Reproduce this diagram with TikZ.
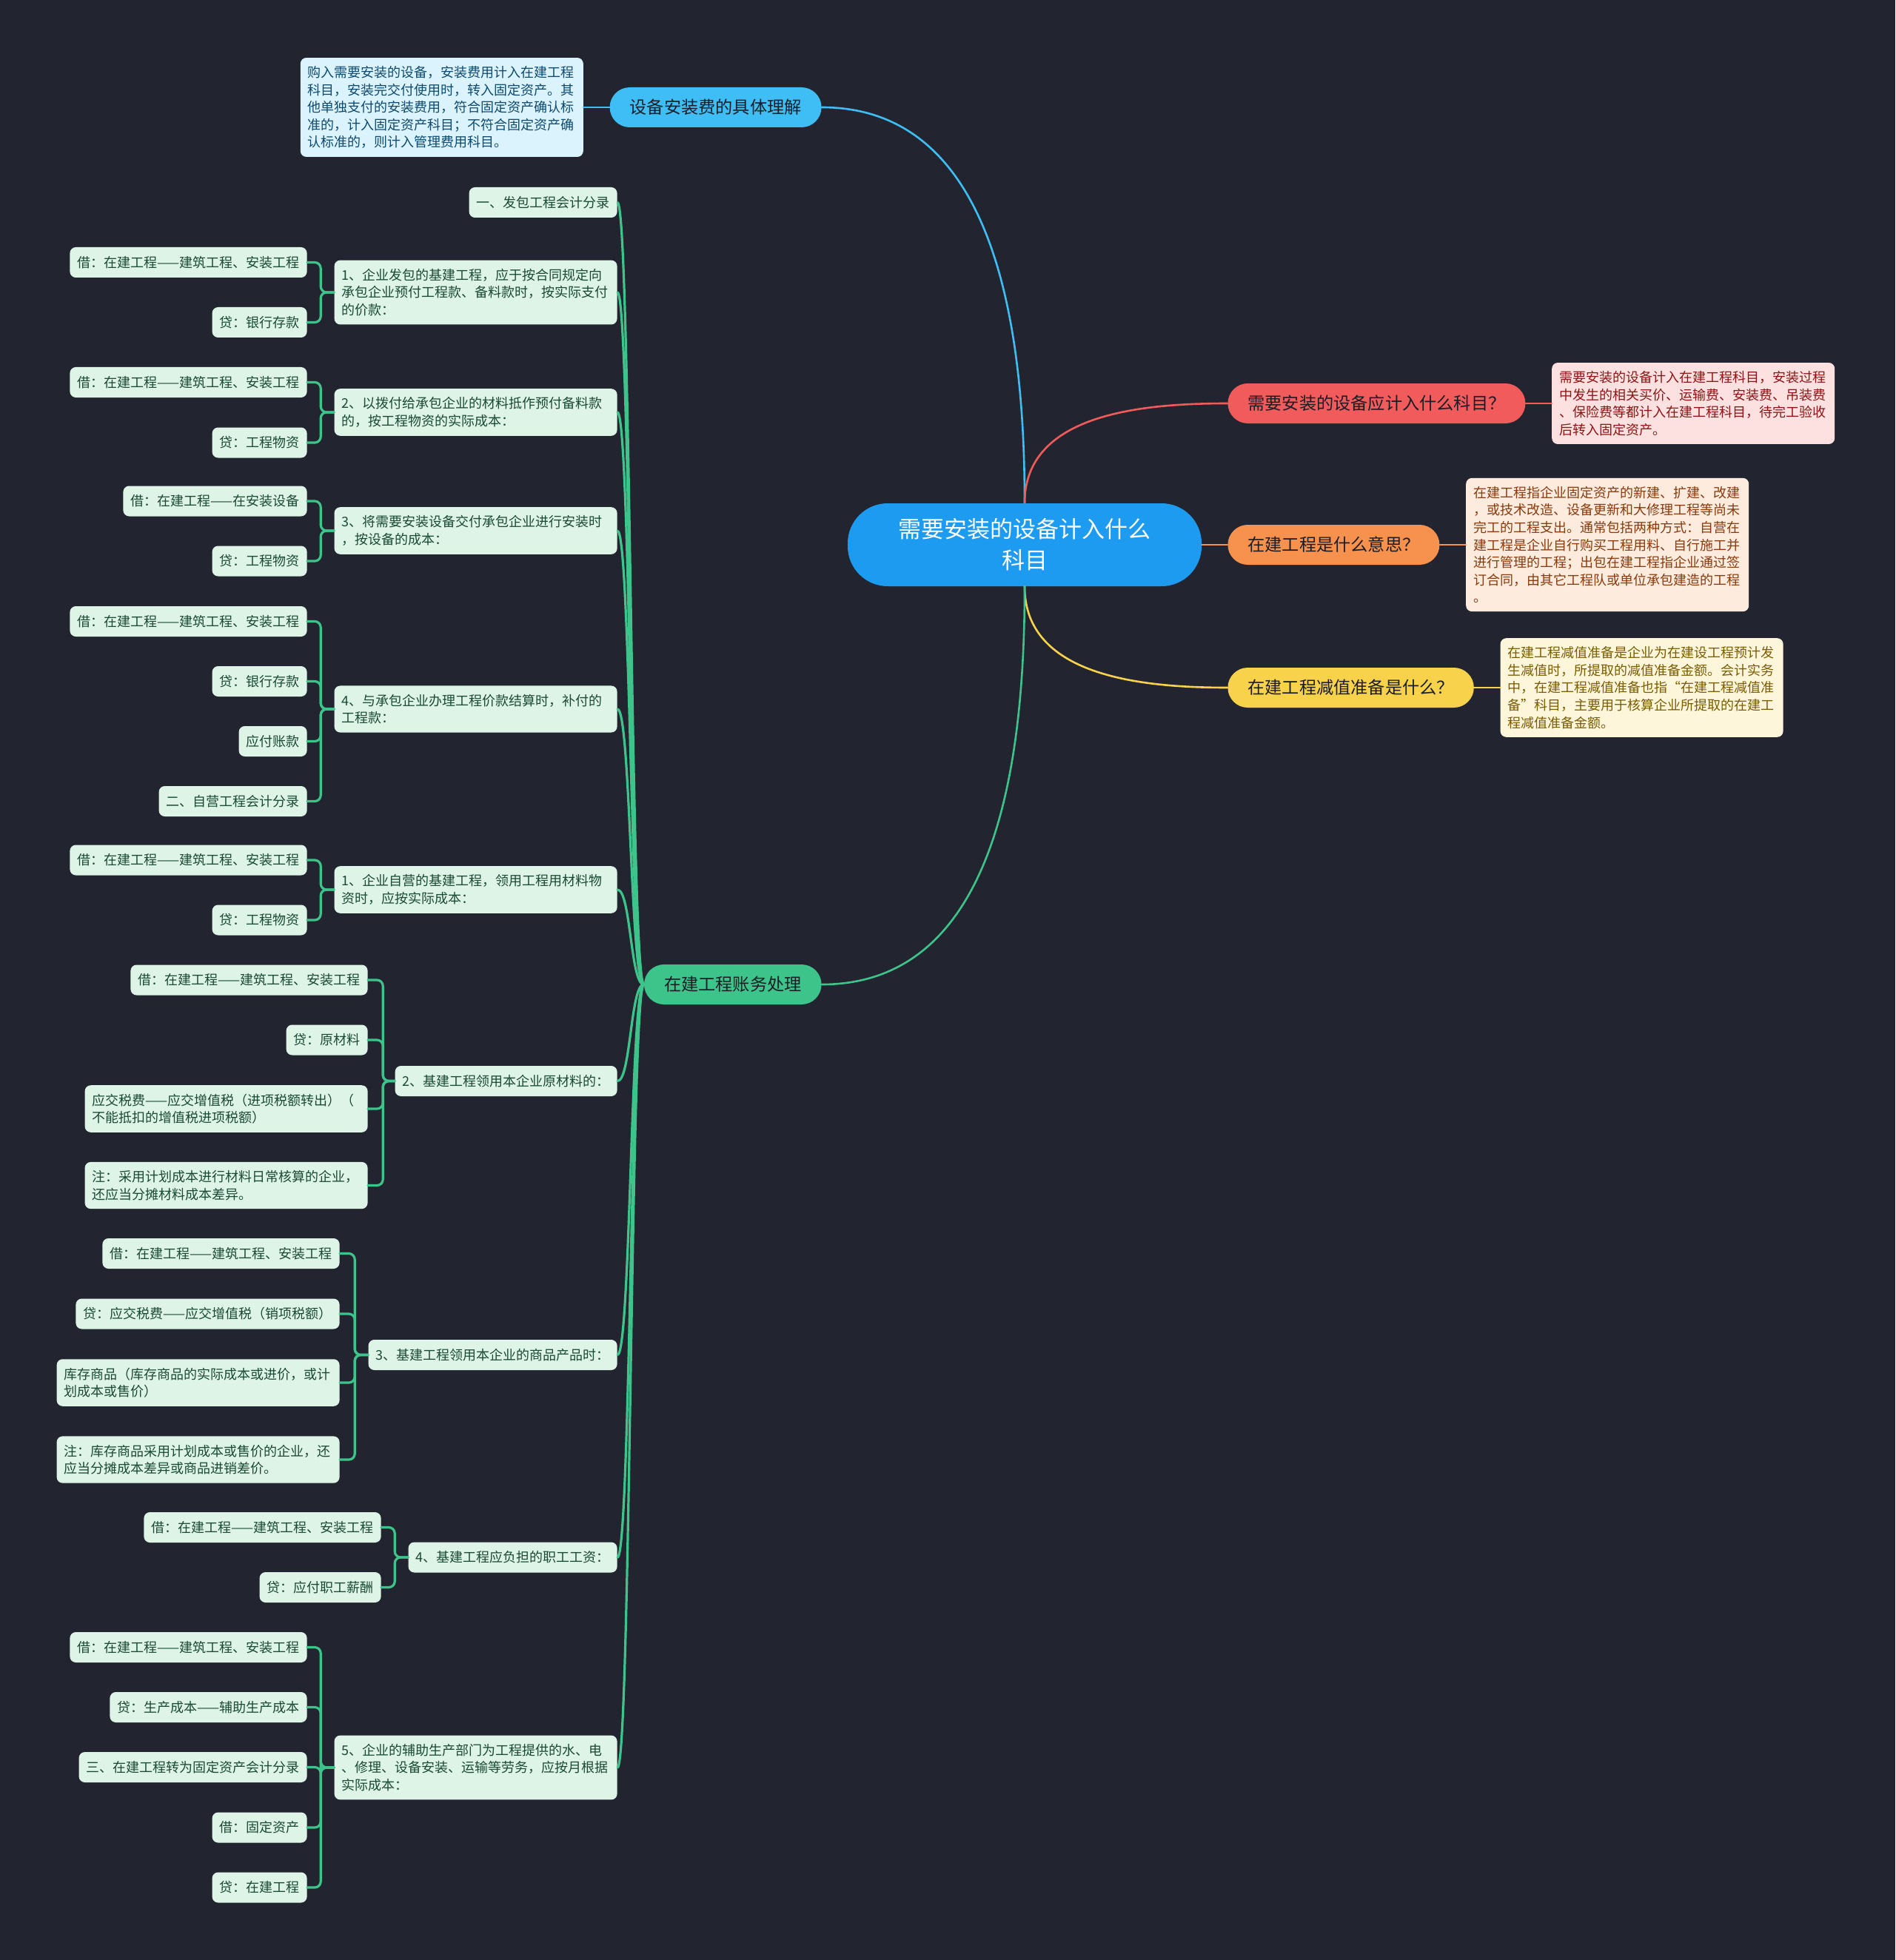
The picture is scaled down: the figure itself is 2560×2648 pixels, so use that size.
\documentclass[tikz,border=0pt]{standalone}
\usepackage{fontspec}
\setmainfont{Noto Sans CJK SC}
\usetikzlibrary{positioning}
\definecolor{bgnavy}{HTML}{22252F}
\definecolor{rootblue}{HTML}{1D9BF0}
\definecolor{skyblue}{HTML}{3FBEF5}
\definecolor{skypale}{HTML}{DBF3FD}
\definecolor{skyink}{HTML}{0E4A6E}
\definecolor{coral}{HTML}{F25B5B}
\definecolor{coralpale}{HTML}{FDE1E1}
\definecolor{coralink}{HTML}{8E1414}
\definecolor{tangerine}{HTML}{F7924E}
\definecolor{tangpale}{HTML}{FDEBDE}
\definecolor{tangink}{HTML}{8A3A0C}
\definecolor{sun}{HTML}{F9D24B}
\definecolor{sunpale}{HTML}{FEF6DB}
\definecolor{sunink}{HTML}{7A5C00}
\definecolor{mint}{HTML}{3DC48B}
\definecolor{mintpale}{HTML}{DDF4E7}
\definecolor{mintink}{HTML}{1B4A33}
\definecolor{ink}{HTML}{1A1D26}
\tikzset{
  every picture/.style={line cap=round, line join=round},
  rootnode/.style={fill=rootblue, text=white, rounded corners=27pt, minimum width=239pt,
    minimum height=56pt, align=center, font=\fontsize{15.5}{21}\selectfont},
  topic/.style={rounded corners=13.5pt, minimum height=27pt, inner xsep=13.5pt, text=ink,
    font=\fontsize{11.6}{14}\selectfont},
  % explanation boxes of the right-hand topics
  note/.style={rounded corners=4pt, align=left, text width=181pt, inner xsep=5pt,
    inner ysep=5.6pt, font=\fontsize{9}{11.8}\selectfont},
  % green boxes of the bookkeeping branch
  card/.style={fill=mintpale, text=mintink, rounded corners=4pt, align=left, inner xsep=5pt,
    inner ysep=5.7pt, minimum height=20.5pt, font=\fontsize{9}{11.8}\selectfont},
  widecard/.style={card, text width=181pt},
  link/.style={line width=1.3pt},
  twig/.style={line width=1.6pt, mint},
  brace/.style={twig, rounded corners=4pt},
}
\begin{document}
\begin{tikzpicture}[x=0.5pt, y=-0.5pt]
  \fill[bgnavy] (0,0) rectangle (2560,2648);
  % centre and first level
  \node[rootnode] (root) at (1384,736) {需要安装的设备计入什么\\科目};
  \node[topic, fill=skyblue, anchor=east] (meaning) at (1110,145) {设备安装费的具体理解};
  \node[topic, fill=coral, anchor=west] (account) at (1658,545) {需要安装的设备应计入什么科目？};
  \node[topic, fill=tangerine, anchor=west] (wip) at (1658,736) {在建工程是什么意思？};
  \node[topic, fill=sun, anchor=west] (impair) at (1658,929) {在建工程减值准备是什么？};
  \node[topic, fill=mint, anchor=east] (books) at (1110,1330) {在建工程账务处理};
  \draw[link, skyblue] (root.north) to[out=90, in=0] (meaning.east);
  \draw[link, coral] (root.north) to[out=90, in=180] (account.west);
  \draw[link, tangerine] (root) -- (wip);
  \draw[link, sun] (root.south) to[out=-90, in=180] (impair.west);
  \draw[link, mint] (root.south) to[out=-90, in=0] (books.east);
  % explanations
  \node[note, fill=skypale, text=skyink, left=17.5pt of meaning] (meaningtxt)
    {购入需要安装的设备，安装费用计入在建工程\\科目，安装完交付使用时，转入固定资产。其\\他单独支付的安装费用，符合固定资产确认标\\准的，计入固定资产科目；不符合固定资产确\\认标准的，则计入管理费用科目。};
  \node[note, fill=coralpale, text=coralink, right=17.5pt of account] (accounttxt)
    {需要安装的设备计入在建工程科目，安装过程\\中发生的相关买价、运输费、安装费、吊装费\\、保险费等都计入在建工程科目，待完工验收\\后转入固定资产。};
  \node[note, fill=tangpale, text=tangink, right=17.5pt of wip] (wiptxt)
    {在建工程指企业固定资产的新建、扩建、改建\\，或技术改造、设备更新和大修理工程等尚未\\完工的工程支出。通常包括两种方式：自营在\\建工程是企业自行购买工程用料、自行施工并\\进行管理的工程；出包在建工程指企业通过签\\订合同，由其它工程队或单位承包建造的工程\\。};
  \node[note, fill=sunpale, text=sunink, right=17.5pt of impair] (impairtxt)
    {在建工程减值准备是企业为在建设工程预计发\\生减值时，所提取的减值准备金额。会计实务\\中，在建工程减值准备也指“在建工程减值准\\备”科目，主要用于核算企业所提取的在建工\\程减值准备金额。};
  \draw[link, skyblue] (meaning) -- (meaningtxt);
  \draw[link, coral] (account) -- (accounttxt);
  \draw[link, tangerine] (wip) -- (wiptxt);
  \draw[link, sun] (impair) -- (impairtxt);
  % bookkeeping entries
  \node[card, anchor=east] (contract) at (834,273.5) {一、发包工程会计分录};
  \node[widecard, anchor=east] (prepay) at (834,395) {1、企业发包的基建工程，应于按合同规定向\\承包企业预付工程款、备料款时，按实际支付\\的价款：};
  \node[widecard, anchor=east] (matpay) at (834,557) {2、以拨付给承包企业的材料抵作预付备料款\\的，按工程物资的实际成本：};
  \node[widecard, anchor=east] (equip) at (834,717) {3、将需要安装设备交付承包企业进行安装时\\，按设备的成本：};
  \node[widecard, anchor=east] (settle) at (834,958) {4、与承包企业办理工程价款结算时，补付的\\工程款：};
  \node[widecard, anchor=east] (selfmat) at (834,1202) {1、企业自营的基建工程，领用工程用材料物\\资时，应按实际成本：};
  \node[card, anchor=east] (rawmat) at (834,1460.5) {2、基建工程领用本企业原材料的：};
  \node[card, anchor=east] (goods) at (834,1830.5) {3、基建工程领用本企业的商品产品时：};
  \node[card, anchor=east] (wages) at (834,2104) {4、基建工程应负担的职工工资：};
  \node[widecard, anchor=east] (aux) at (834,2388) {5、企业的辅助生产部门为工程提供的水、电\\、修理、设备安装、运输等劳务，应按月根据\\实际成本：};
  \foreach \n in {contract, prepay, matpay, equip, settle, selfmat, rawmat, goods, wages, aux}
    \draw[twig] (books.west) .. controls +(-18,0) and +(18,0) .. (\n.east);
  % debit / credit lines
  \node[card, anchor=east] (prepayD) at (415,354.5) {借：在建工程——建筑工程、安装工程};
  \node[card, anchor=east] (prepayC) at (415,435.5) {贷：银行存款};
  \node[card, anchor=east] (matpayD) at (415,516.5) {借：在建工程——建筑工程、安装工程};
  \node[card, anchor=east] (matpayC) at (415,598) {贷：工程物资};
  \node[card, anchor=east] (equipD) at (415,677) {借：在建工程——在安装设备};
  \node[card, anchor=east] (equipC) at (415,758) {贷：工程物资};
  \node[card, anchor=east] (settleD) at (415,839.5) {借：在建工程——建筑工程、安装工程};
  \node[card, anchor=east] (settleC) at (415,920.5) {贷：银行存款};
  \node[card, anchor=east] (settleP) at (415,1001.5) {应付账款};
  \node[card, anchor=east] (selfhead) at (415,1082.5) {二、自营工程会计分录};
  \node[card, anchor=east] (selfmatD) at (415,1162) {借：在建工程——建筑工程、安装工程};
  \node[card, anchor=east] (selfmatC) at (415,1243) {贷：工程物资};
  \node[card, anchor=east] (rawmatD) at (497,1324) {借：在建工程——建筑工程、安装工程};
  \node[card, anchor=east] (rawmatC) at (497,1405) {贷：原材料};
  \node[widecard, anchor=east] (rawmatT) at (497,1498) {应交税费——应交增值税（进项税额转出）（\\不能抵扣的增值税进项税额）};
  \node[widecard, anchor=east] (rawmatN) at (497,1601.5) {注：采用计划成本进行材料日常核算的企业，\\还应当分摊材料成本差异。};
  \node[card, anchor=east] (goodsD) at (459,1693.5) {借：在建工程——建筑工程、安装工程};
  \node[card, anchor=east] (goodsC) at (459,1775) {贷：应交税费——应交增值税（销项税额）};
  \node[widecard, anchor=east] (goodsS) at (459,1868) {库存商品（库存商品的实际成本或进价，或计\\划成本或售价）};
  \node[widecard, anchor=east] (goodsN) at (459,1972) {注：库存商品采用计划成本或售价的企业，还\\应当分摊成本差异或商品进销差价。};
  \node[card, anchor=east] (wagesD) at (515,2063.5) {借：在建工程——建筑工程、安装工程};
  \node[card, anchor=east] (wagesC) at (515,2144.5) {贷：应付职工薪酬};
  \node[card, anchor=east] (auxD) at (415,2225.5) {借：在建工程——建筑工程、安装工程};
  \node[card, anchor=east] (auxC) at (415,2306.5) {贷：生产成本——辅助生产成本};
  \node[card, anchor=east] (fixhead) at (415,2387.5) {三、在建工程转为固定资产会计分录};
  \node[card, anchor=east] (fixD) at (415,2469) {借：固定资产};
  \node[card, anchor=east] (fixC) at (415,2550) {贷：在建工程};
  \foreach \l in {prepayD, prepayC} \draw[brace] (prepay.west) -- ++(-18,0) |- (\l.east);
  \foreach \l in {matpayD, matpayC} \draw[brace] (matpay.west) -- ++(-18,0) |- (\l.east);
  \foreach \l in {equipD, equipC} \draw[brace] (equip.west) -- ++(-18,0) |- (\l.east);
  \foreach \l in {settleD, settleC, settleP, selfhead} \draw[brace] (settle.west) -- ++(-18,0) |- (\l.east);
  \foreach \l in {selfmatD, selfmatC} \draw[brace] (selfmat.west) -- ++(-18,0) |- (\l.east);
  \foreach \l in {rawmatD, rawmatC, rawmatT, rawmatN} \draw[brace] (rawmat.west) -- ++(-16,0) |- (\l.east);
  \foreach \l in {goodsD, goodsC, goodsS, goodsN} \draw[brace] (goods.west) -- ++(-18,0) |- (\l.east);
  \foreach \l in {wagesD, wagesC} \draw[brace] (wages.west) -- ++(-18,0) |- (\l.east);
  \foreach \l in {auxD, auxC, fixhead, fixD, fixC} \draw[brace] (aux.west) -- ++(-18,0) |- (\l.east);
\end{tikzpicture}
\end{document}
